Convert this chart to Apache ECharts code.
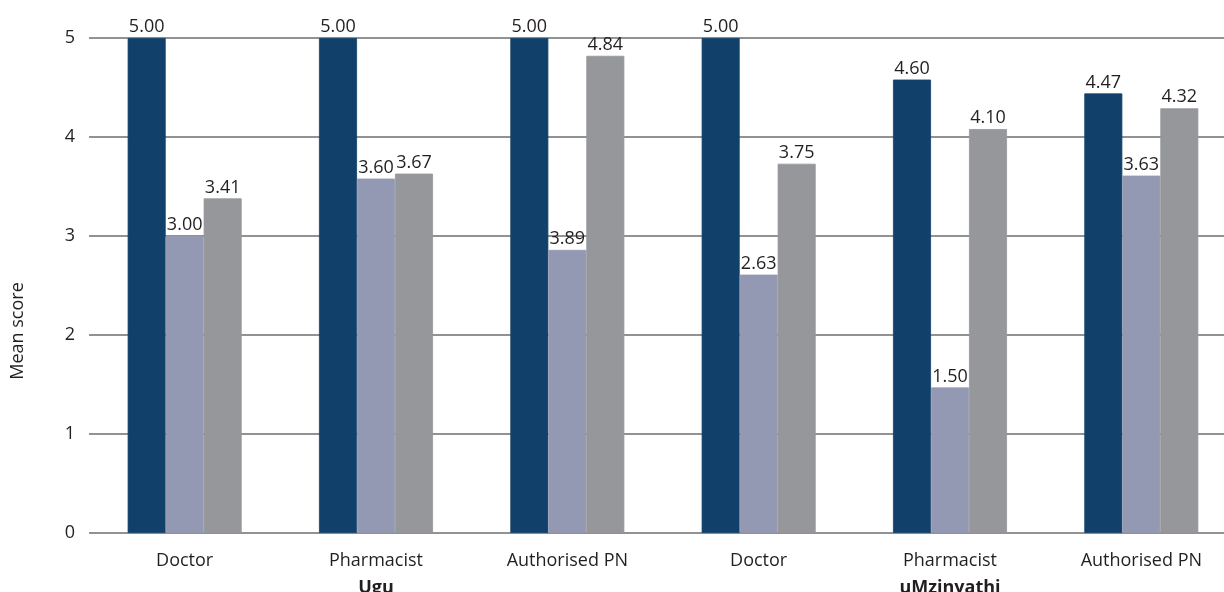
<!DOCTYPE html>
<html>
<head>
<meta charset="utf-8">
<script src="https://cdn.jsdelivr.net/npm/echarts@6/dist/echarts.min.js"></script>
<style>
  html, body { margin: 0; padding: 0; background: #fff; }
  #chart { width: 1224px; height: 592px; }
</style>
</head>
<body>
<div id="chart"></div>
<script>
// categories along the x axis, and the district written under the middle one of each group
var categories = ['Doctor', 'Pharmacist', 'Authorised PN', 'Doctor', 'Pharmacist', 'Authorised PN'];
var districts = ['', 'Ugu', '', '', 'uMzinyathi', ''];

// bar heights as drawn
var navyValues = [5.00, 5.00, 5.00, 5.00, 4.58, 4.44];
var lavenderValues = [3.00, 3.58, 2.86, 2.61, 1.47, 3.61];
var greyValues = [3.38, 3.63, 4.82, 3.73, 4.08, 4.29];

// labels printed above the bars
var navyLabels = ['5.00', '5.00', '5.00', '5.00', '4.60', '4.47'];
var lavenderLabels = ['3.00', '3.60', '3.89', '2.63', '1.50', '3.63'];
var greyLabels = ['3.41', '3.67', '4.84', '3.75', '4.10', '4.32'];

var yTicks = [0, 1, 2, 3, 4, 5];

var chart = echarts.init(document.getElementById('chart'));
var font = 'Open Sans';

function makeSeries(values, labels, color) {
    return {
        type: 'bar',
        data: values,
        barWidth: 38,
        barGap: '0%',
        // border in the same colour hides the thin seams between touching bars
        itemStyle: { color: color, borderColor: color, borderWidth: 0.8 },
        label: {
            show: true,
            position: 'top',
            distance: 2,
            fontFamily: font,
            fontSize: 18,
            color: '#231f20',
            formatter: function(p){ return labels[p.dataIndex]; }
        }
    };
}

var option = {
    animation: false,
    grid: { left: 89, width: 1148, top: 38, bottom: 59, outerBoundsMode: 'none', containLabel: false },
    xAxis: {
        type: 'category',
        data: categories,
        axisLine: { show: false },
        axisTick: { show: false },
        axisLabel: {
            interval: 0,
            margin: 14,
            fontFamily: font,
            fontSize: 18,
            color: '#231f20',
            lineHeight: 27,
            formatter: function(v, i){
                return districts[i] ? v + '\n{b|' + districts[i] + '}' : v;
            },
            rich: {
                b: { fontFamily: font, fontSize: 18, fontWeight: 'bold', color: '#231f20', lineHeight: 27 }
            }
        }
    },
    yAxis: {
        type: 'value',
        min: yTicks[0],
        max: yTicks[yTicks.length - 1],
        interval: 1,
        axisLine: { show: false },
        axisTick: { show: false },
        axisLabel: { margin: 14, fontFamily: font, fontSize: 18, color: '#231f20' },
        splitLine: { lineStyle: { color: '#6d6e71', width: 1.5 } }
    },
    graphic: [{
        type: 'text',
        x: 18,
        y: 331,
        rotation: Math.PI / 2,
        style: {
            text: 'Mean score',
            fontFamily: font,
            fontSize: 18,
            fill: '#231f20',
            textAlign: 'center',
            textVerticalAlign: 'middle'
        }
    }],
    series: [
        makeSeries(navyValues, navyLabels, '#11416a'),
        makeSeries(lavenderValues, lavenderLabels, '#9499b3'),
        makeSeries(greyValues, greyLabels, '#96979a')
    ]
};

chart.setOption(option);
</script>
</body>
</html>
